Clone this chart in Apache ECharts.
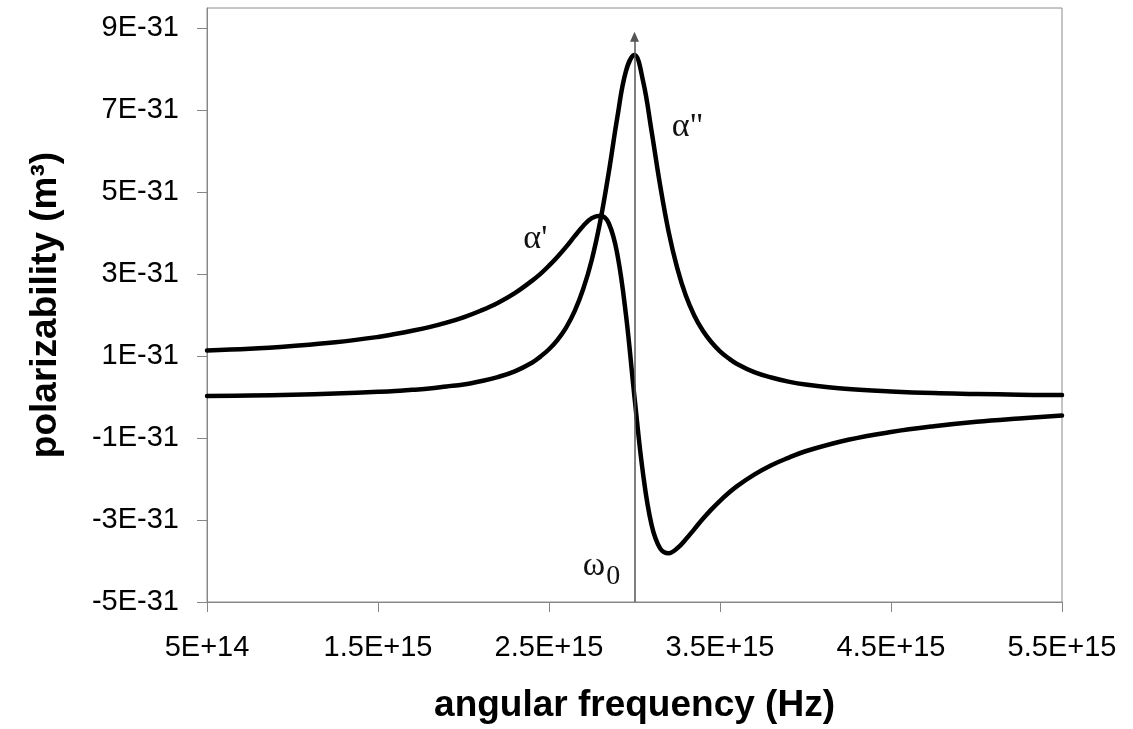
<!DOCTYPE html>
<html>
<head>
<meta charset="utf-8">
<script src="https://cdn.jsdelivr.net/npm/echarts@6/dist/echarts.min.js"></script>
<style>html,body{margin:0;padding:0;background:#fff}#c{width:1133px;height:729px}</style>
</head>
<body>
<div id="c"></div>
<script>
// angular frequency, in units of 1E+15 Hz
const freqE15 = [0.5,0.75,1.0,1.25,1.5,1.6,1.7,1.8,1.9,2.0,2.1,2.2,2.3,2.4,2.45,2.5,2.55,2.6,2.65,2.7,2.75,2.8,2.85,2.9,2.95,3.0,3.05,3.1,3.15,3.2,3.25,3.3,3.35,3.4,3.45,3.5,3.55,3.6,3.7,3.8,3.9,4.0,4.25,4.5,4.75,5.0,5.25,5.5];
// alpha' (real part), in units of 1E-31 m^3
const alphaRealE31 = [1.14,1.18,1.25,1.34,1.47,1.54,1.62,1.71,1.82,1.95,2.11,2.30,2.54,2.84,3.01,3.21,3.43,3.67,3.93,4.18,4.37,4.43,4.24,3.48,2.01,0.00,-1.87,-3.12,-3.69,-3.81,-3.69,-3.47,-3.22,-2.97,-2.74,-2.53,-2.34,-2.17,-1.89,-1.66,-1.48,-1.32,-1.04,-0.85,-0.71,-0.60,-0.52,-0.45];
// alpha'' (imaginary part), in units of 1E-31 m^3
const alphaImagE31 = [0.03,0.04,0.06,0.09,0.13,0.15,0.18,0.21,0.26,0.31,0.39,0.49,0.63,0.84,0.99,1.17,1.40,1.70,2.10,2.64,3.35,4.30,5.50,6.84,7.96,8.35,7.72,6.49,5.17,4.03,3.15,2.48,1.99,1.62,1.34,1.12,0.95,0.81,0.61,0.48,0.38,0.31,0.20,0.14,0.10,0.08,0.06,0.05];

const xTickValues = [0.5,1.5,2.5,3.5,4.5,5.5];
const xTickLabels = ['5E+14','1.5E+15','2.5E+15','3.5E+15','4.5E+15','5.5E+15'];
const yTickValues = [-5,-3,-1,1,3,5,7,9];
const yTickLabels = ['-5E-31','-3E-31','-1E-31','1E-31','3E-31','5E-31','7E-31','9E-31'];

const omega0 = 3.0;
const omegaLineRange = [-5, 8.8];

function pick(vals, labels, v) {
  const i = vals.findIndex(t => Math.abs(t - v) < 1e-6);
  return i >= 0 ? labels[i] : '';
}

const realData = freqE15.map((x, i) => [x, alphaRealE31[i]]);
const imagData = freqE15.map((x, i) => [x, alphaImagE31[i]]);

const serif = '"Liberation Serif", "DejaVu Serif", serif';
const sans = '"Liberation Sans", Arial, sans-serif';
const annoLabel = (txt, size) => ({
  show: true, position: 'inside', formatter: txt,
  fontFamily: serif, fontSize: size, color: '#111'
});

const chart = echarts.init(document.getElementById('c'), null, {renderer: 'canvas'});
chart.setOption({
  animation: false,
  backgroundColor: '#fff',
  grid: {left: 207, right: 71, top: 8, bottom: 126, show: true, borderColor: '#8c8c8c', borderWidth: 1},
  xAxis: {
    type: 'value', min: 0.5, max: 5.5, interval: 1,
    name: 'angular frequency (Hz)', nameLocation: 'middle', nameGap: 85,
    nameTextStyle: {fontFamily: sans, fontWeight: 'bold', fontSize: 37, color: '#000'},
    axisLine: {show: true, onZero: false, lineStyle: {color: '#868686', width: 1}},
    axisTick: {show: true, length: 10, inside: false, customValues: xTickValues, lineStyle: {color: '#868686'}},
    axisLabel: {show: true, margin: 31, customValues: xTickValues, fontFamily: sans, fontSize: 29, color: '#000',
      formatter: v => pick(xTickValues, xTickLabels, v)},
    splitLine: {show: false}
  },
  yAxis: {
    type: 'value', min: -5, max: 9.5, interval: 2,
    name: 'polarizability (m³)', nameLocation: 'middle', nameGap: 143, nameRotate: 90,
    nameTextStyle: {fontFamily: sans, fontWeight: 'bold', fontSize: 37, color: '#000'},
    axisLine: {show: true, onZero: false, lineStyle: {color: '#868686', width: 1}},
    axisTick: {show: true, length: 10, inside: false, customValues: yTickValues, lineStyle: {color: '#868686'}},
    axisLabel: {show: true, margin: 28, customValues: yTickValues, fontFamily: sans, fontSize: 29, color: '#000',
      formatter: v => pick(yTickValues, yTickLabels, v)},
    splitLine: {show: false}
  },
  series: [
    {
      name: "alpha'", type: 'line', data: realData, smooth: 0.4, symbol: 'none',
      lineStyle: {color: '#000', width: 4.5, join: 'round', cap: 'round'}, z: 3
    },
    {
      name: "alpha''", type: 'line', data: imagData, smooth: 0.4, symbol: 'none',
      lineStyle: {color: '#000', width: 4.5, join: 'round', cap: 'round'}, z: 3
    },
    {
      name: 'annotations', type: 'line', data: [], symbol: 'none', z: 2,
      markLine: {
        silent: true, animation: false,
        symbol: ['none', 'triangle'], symbolSize: [9, 10],
        label: {show: false},
        lineStyle: {color: '#555', width: 1.5, type: 'solid'},
        data: [[{coord: [omega0, omegaLineRange[0]]}, {coord: [omega0, omegaLineRange[1]]}]]
      },
      markPoint: {
        silent: true, animation: false, symbol: 'circle', symbolSize: 0,
        itemStyle: {color: 'transparent'},
        data: [
          {coord: [2.42, 3.86], label: annoLabel("α'", 34)},
          {coord: [3.31, 6.6], label: annoLabel('α"', 34)},
          {coord: [2.763, -4.12], label: annoLabel('ω', 34)},
          {coord: [2.875, -4.38], label: annoLabel('0', 28)}
        ]
      }
    }
  ]
});
</script>
</body>
</html>
